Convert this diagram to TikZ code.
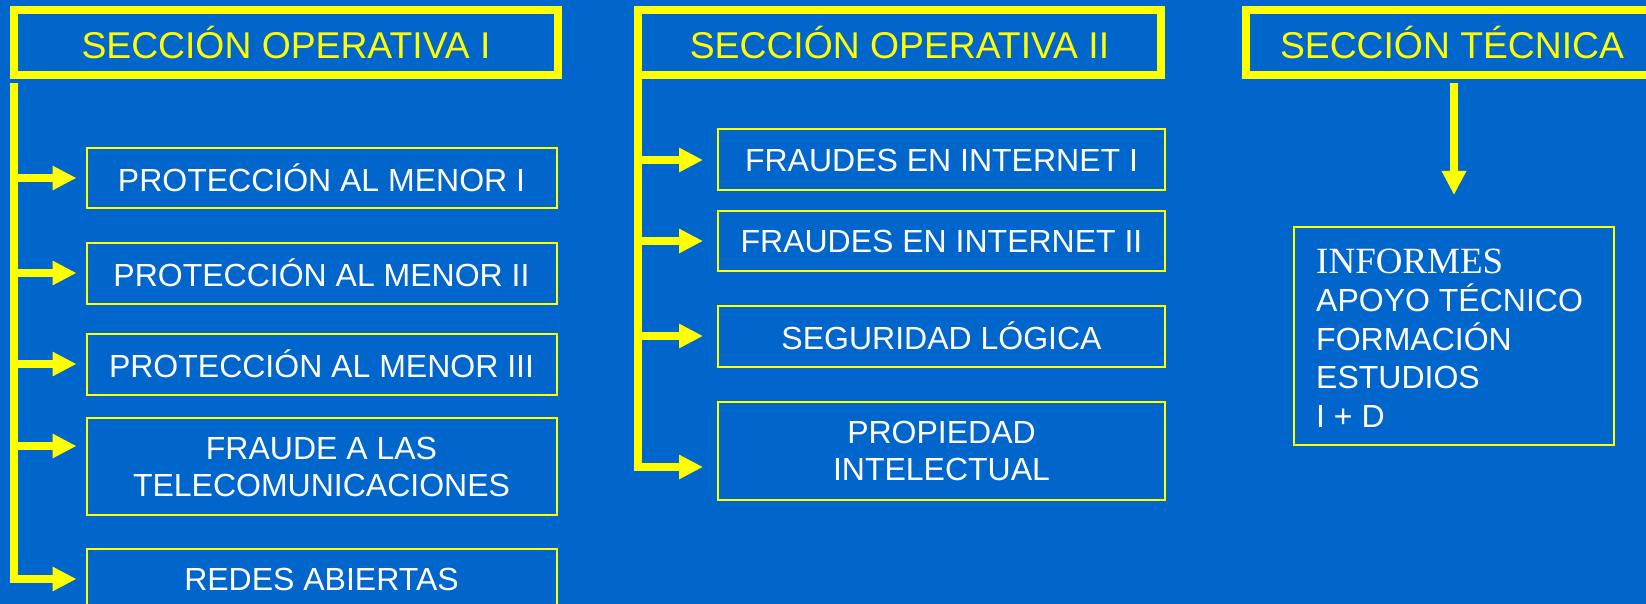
\documentclass[tikz,border=0pt]{standalone}
\usepackage{fontspec}
\setmainfont{Liberation Sans}
\newfontfamily\serifi{Liberation Serif}
\usetikzlibrary{arrows.meta}
\definecolor{bgblue}{RGB}{0,102,204}
\definecolor{ylw}{RGB}{255,255,0}
\tikzset{
  hdr/.style={draw=ylw, line width=8pt, outer sep=0pt, inner sep=0pt, text=ylw,
    font=\fontsize{37.3}{42}\selectfont, minimum height=65pt},
  unit/.style={draw=ylw, line width=2pt, outer sep=0pt, inner sep=0pt, text=white,
    align=center, font=\fontsize{32}{37}\selectfont},
  cola/.style={unit, minimum width=470pt},
  colb/.style={unit, minimum width=447pt},
  conn/.style={draw=ylw, line width=8pt},
  arr/.style={conn, -{Triangle[length=24pt,width=23pt]}},
}
\begin{document}
\begin{tikzpicture}[x=1pt,y=-1pt]
\useasboundingbox (0,0) rectangle (1646,604);
\clip (0,0) rectangle (1646,604);
\fill[bgblue] (0,0) rectangle (1646,604);

% headers
\node[hdr, minimum width=544pt] (h1) at (286,42.5) {SECCIÓN OPERATIVA I};
\node[hdr, minimum width=523pt] (h2) at (899.5,42.5) {SECCIÓN OPERATIVA II};
\node[hdr, minimum width=412pt] (h3) at (1452,42.5) {SECCIÓN TÉCNICA};

% column 1
\node[cola, minimum height=60pt] (pm1) at (321.5,178) {PROTECCIÓN AL MENOR I};
\node[cola, minimum height=61pt] (pm2) at (321.5,273) {PROTECCIÓN AL MENOR II};
\node[cola, minimum height=61pt] (pm3) at (321.5,364) {PROTECCIÓN AL MENOR III};
\node[cola, minimum height=97pt] (fr) at (321.5,466.5) {FRAUDE A LAS\\TELECOMUNICACIONES};
\node[cola, minimum height=61pt] (rd) at (321.5,579) {REDES ABIERTAS};

% column 2
\node[colb, minimum height=61pt] (fi1) at (941.5,160) {FRAUDES EN INTERNET I};
\node[colb, minimum height=60pt] (fi2) at (941.5,241) {FRAUDES EN INTERNET II};
\node[colb, minimum height=61pt] (sl) at (941.5,336) {SEGURIDAD LÓGICA};
\node[colb, minimum height=98pt] (pi) at (941.5,451) {PROPIEDAD\\INTELECTUAL};

% column 3
\node[unit, minimum width=320pt, minimum height=218pt] (tec) at (1454,336) {};
\node[anchor=base west, align=left, inner sep=0pt, text=white,
  font=\fontsize{32}{38.5}\selectfont] (tect) at (1316,427)
  {{\serifi\fontsize{37}{38.5}\selectfont INFORMES}\\APOYO TÉCNICO\\FORMACIÓN\\ESTUDIOS\\I + D};

% connectors column 1
\draw[arr, shorten >=10pt] ([yshift=-8pt]h1.south west) |- (rd.west);
\draw[arr, shorten >=10pt] (h1.south west |- pm1.west) -- (pm1.west);
\draw[arr, shorten >=10pt] (h1.south west |- pm2.west) -- (pm2.west);
\draw[arr, shorten >=10pt] (h1.south west |- pm3.west) -- (pm3.west);
\draw[arr, shorten >=10pt] ([yshift=20.5pt]fr.west -| h1.south west) -- ([yshift=20.5pt]fr.west);

% connectors column 2
\draw[arr, shorten >=15pt] (h2.south west) |- ([yshift=-16pt]pi.west);
\draw[arr, shorten >=15pt] (h2.south west |- fi1.west) -- (fi1.west);
\draw[arr, shorten >=15pt] (h2.south west |- fi2.west) -- (fi2.west);
\draw[arr, shorten >=15pt] (h2.south west |- sl.west) -- (sl.west);

% connector column 3
\draw[arr, shorten >=32pt] ([xshift=2pt,yshift=-8pt]h3.south) -- ([xshift=2pt]h3.south |- tec.north);
\end{tikzpicture}
\end{document}
